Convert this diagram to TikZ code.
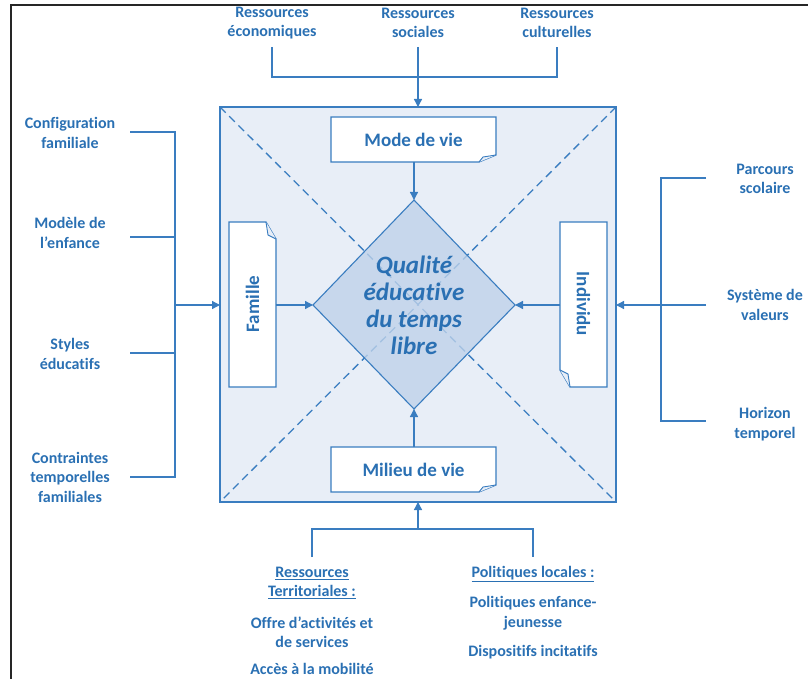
\documentclass[tikz,border=0pt]{standalone}
\usepackage{fontspec}
\setmainfont{Carlito}[Ligatures=NoCommon]
\usetikzlibrary{arrows.meta}
\definecolor{cblue}{HTML}{2A70B3}
\definecolor{cline}{HTML}{3A7DC0}
\definecolor{cbg}{HTML}{E8EEF7}
\definecolor{cdia}{HTML}{BFD2EA}
\tikzset{
  lbl/.style={text=cblue, font=\bfseries\fontsize{16}{19.5}\selectfont, align=center, inner sep=0pt},
  boxlbl/.style={text=cblue, font=\bfseries\fontsize{19}{22}\selectfont, inner sep=0pt},
  conn/.style={draw=cline, line width=1.3pt},
  arr/.style={conn, -{Triangle[length=8pt,width=8pt]}},
  paper/.style={draw=cline, fill=white, line width=1.2pt, line join=miter},
  flap/.style={draw=cline, fill=cbg, line width=0.9pt},
  diag/.style={draw=cline, line width=1.3pt, dash pattern=on 8pt off 5pt}
}
\begin{document}
\begin{tikzpicture}[x=1pt,y=-1pt]
\useasboundingbox (0,0) rectangle (808,679);
% outer frame
\draw[black!85, line width=2.2pt] (11,679) -- (11,5) -- (808,5);

% main square
\coordinate (sTL) at (220,107);
\coordinate (sTR) at (616,107);
\coordinate (sBL) at (220,502);
\coordinate (sBR) at (616,502);
\coordinate (sT) at (418,107);
\coordinate (sB) at (418,502);
\coordinate (sL) at (220,305);
\coordinate (sR) at (616,305);
\draw[conn, fill=cbg, line width=1.5pt] (sTL) rectangle (sBR);
\draw[diag] (sTL) -- (sBR);
\draw[diag] (sTR) -- (sBL);

% diamond
\coordinate (dT) at (414,200);
\coordinate (dB) at (414,409);
\coordinate (dL) at (313,305);
\coordinate (dR) at (515,305);
\draw[draw=cline, line width=1.1pt, fill=cdia, fill opacity=0.8] (dT) -- (dR) -- (dB) -- (dL) -- cycle;
\node[text=cblue, font=\bfseries\itshape\fontsize{25}{27}\selectfont, align=center, inner sep=0pt] (q) at (414,305) {Qualité\\éducative\\du temps\\libre};

% boxes
\draw[paper] (331,117) -- (496,117) -- (496,155) -- (479,162) -- (331,162) -- cycle;
\draw[flap] (496,155) -- (483,157) -- (479,162);
\node[boxlbl] (mode) at (413.5,139.5) {Mode de vie};

\draw[paper] (331,447) -- (496,447) -- (496,485) -- (479,492) -- (331,492) -- cycle;
\draw[flap] (496,485) -- (483,487) -- (479,492);
\node[boxlbl] (milieu) at (413.5,469.5) {Milieu de vie};

\draw[paper] (229,222) -- (266,222) -- (276,239) -- (276,387) -- (229,387) -- cycle;
\draw[flap] (266,222) -- (268,235) -- (276,239);
\node[boxlbl, rotate=90] (famille) at (252.5,304) {Famille};

\draw[paper] (560,222) -- (607,222) -- (607,387) -- (570,387) -- (560,370) -- cycle;
\draw[flap] (560,370) -- (568,374) -- (570,387);
\node[boxlbl, rotate=-90] (individu) at (583.5,304) {Individu};

% inner arrows
\coordinate (modeB) at (414,162);
\coordinate (milT) at (414,447);
\coordinate (famR) at (276,305);
\coordinate (indL) at (560,305);
\draw[arr] (modeB) -- (dT);
\draw[arr] (milT) -- (dB);
\draw[arr] (famR) -- (dL);
\draw[arr] (indL) -- (dR);

% top
\node[lbl] (eco) at (272,23) {Ressources\\économiques};
\node[lbl] (soc) at (418,23) {Ressources\\sociales};
\node[lbl] (cul) at (557,23) {Ressources\\culturelles};
\coordinate (ecoA) at (272,47);
\coordinate (socA) at (418,47);
\coordinate (culA) at (557,47);
\coordinate (ecoB) at (272,77);
\coordinate (socB) at (418,77);
\coordinate (culB) at (557,77);
\draw[conn] (ecoA) -- (ecoB) -- (culB) -- (culA);
\draw[conn] (socA) -- (socB);
\draw[arr] (socB) -- (sT);

% left
\node[lbl] (conf) at (70,133) {Configuration\\familiale};
\node[lbl] (mod) at (70,233) {Modèle de\\l’enfance};
\node[lbl] (sty) at (70,354) {Styles\\éducatifs};
\node[lbl] (con) at (70,477) {Contraintes\\temporelles\\familiales};
\coordinate (confA) at (130,132);
\coordinate (modA) at (130,237);
\coordinate (styA) at (130,353);
\coordinate (conA) at (130,477);
\coordinate (confB) at (175,132);
\coordinate (modB) at (175,237);
\coordinate (styB) at (175,353);
\coordinate (conB) at (175,477);
\coordinate (leftJ) at (175,305);
\draw[conn] (confA) -- (confB) -- (conB) -- (conA);
\draw[conn] (modA) -- (modB);
\draw[conn] (styA) -- (styB);
\draw[arr] (leftJ) -- (sL);

% right
\node[lbl] (par) at (765,179) {Parcours\\scolaire};
\node[lbl] (sys) at (765,305) {Système de\\valeurs};
\node[lbl] (hor) at (765,424) {Horizon\\temporel};
\coordinate (parA) at (706,178);
\coordinate (sysA) at (706,305);
\coordinate (horA) at (706,421);
\coordinate (parB) at (661,178);
\coordinate (horB) at (661,421);
\draw[conn] (parA) -- (parB) -- (horB) -- (horA);
\draw[arr] (sysA) -- (sR);

% bottom
\node[lbl] (res) at (312,583) {\underline{Ressources}\\\underline{Territoriales :}};
\node[lbl] (off) at (312,632) {Offre d’activités et\\de services};
\node[lbl] (acc) at (312,669) {Accès à la mobilité};
\node[lbl] (pol) at (533,574) {\underline{Politiques locales :}};
\node[lbl] (enf) at (533,613) {Politiques enfance-\\jeunesse};
\node[lbl] (dis) at (533,652) {Dispositifs incitatifs};
\coordinate (resA) at (312,557);
\coordinate (polA) at (533,557);
\coordinate (resB) at (312,529);
\coordinate (polB) at (533,529);
\coordinate (botJ) at (418,529);
\draw[conn] (resA) -- (resB) -- (polB) -- (polA);
\draw[arr] (botJ) -- (sB);
\end{tikzpicture}
\end{document}
